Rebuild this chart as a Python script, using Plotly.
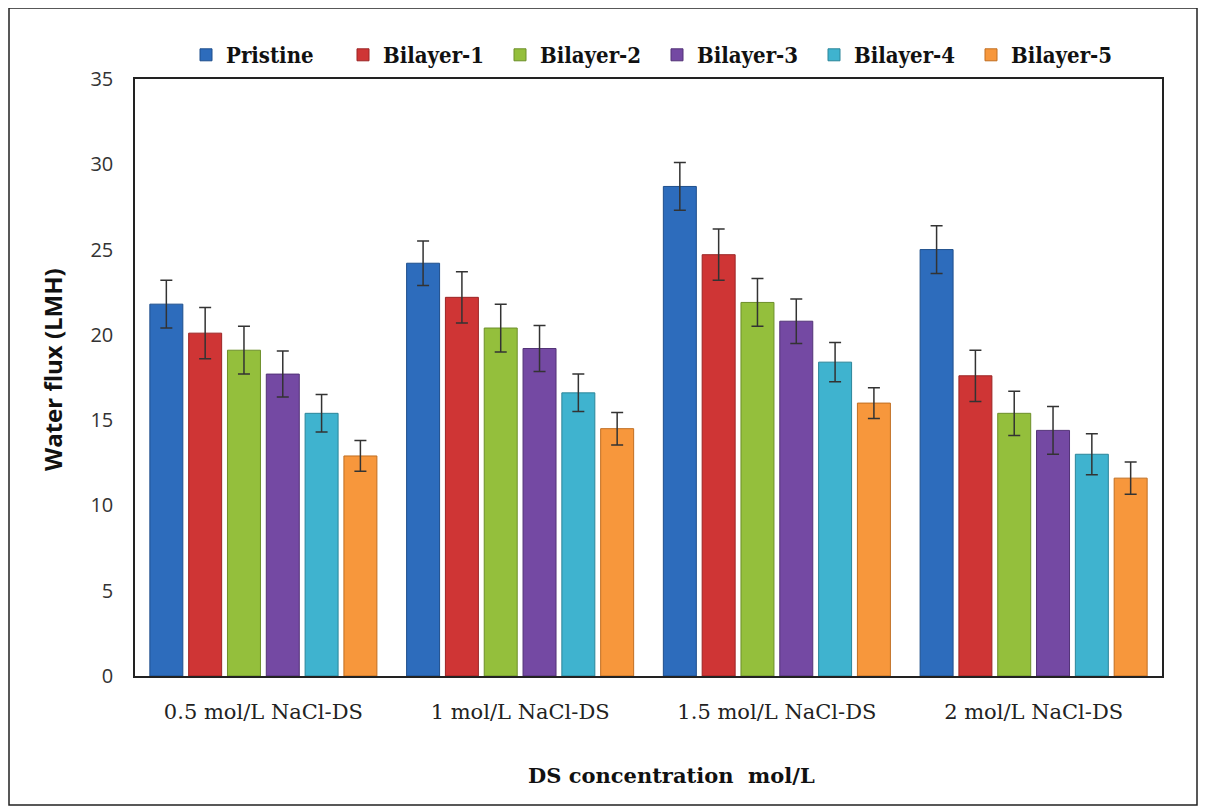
import plotly.graph_objects as go

categories = ["0.5 mol/L NaCl-DS", "1 mol/L NaCl-DS", "1.5 mol/L NaCl-DS", "2 mol/L NaCl-DS"]
series_names = ["Pristine", "Bilayer-1", "Bilayer-2", "Bilayer-3", "Bilayer-4", "Bilayer-5"]

pristine = [21.8, 24.2, 28.7, 25.0]
bilayer1 = [20.1, 22.2, 24.7, 17.6]
bilayer2 = [19.1, 20.4, 21.9, 15.4]
bilayer3 = [17.7, 19.2, 20.8, 14.4]
bilayer4 = [15.4, 16.6, 18.4, 13.0]
bilayer5 = [12.9, 14.5, 16.0, 11.6]

err_pristine = [1.4, 1.3, 1.4, 1.4]
err_bilayer1 = [1.5, 1.5, 1.5, 1.5]
err_bilayer2 = [1.4, 1.4, 1.4, 1.3]
err_bilayer3 = [1.35, 1.35, 1.3, 1.4]
err_bilayer4 = [1.1, 1.1, 1.15, 1.2]
err_bilayer5 = [0.9, 0.95, 0.9, 0.95]

y_ticks = [0, 5, 10, 15, 20, 25, 30, 35]

values = [pristine, bilayer1, bilayer2, bilayer3, bilayer4, bilayer5]
errors = [err_pristine, err_bilayer1, err_bilayer2, err_bilayer3, err_bilayer4, err_bilayer5]
colors = ["#2d6cbc", "#cf3535", "#94bf3c", "#7449a3", "#3fb3cf", "#f7973c"]
edges = ["#1f4f8c", "#9c2525", "#6d8f2a", "#533377", "#2c8599", "#c06e22"]

fig = go.Figure()
for name, v, e, c, ec in zip(series_names, values, errors, colors, edges):
    fig.add_trace(go.Bar(
        name=name, x=categories, y=v,
        marker=dict(color=c, line=dict(color=ec, width=1)),
        error_y=dict(type="data", array=e, visible=True, color="#333333", thickness=1.5, width=6),
    ))

# page has an 8px body margin; work in screen coordinates
OFF = 8
W, H = 1207 - OFF, 810 - OFF
PL, PR, PT, PB = 135, 1162, 79, 676  # plot area in screen px
L, R, T, B = PL - OFF, W - (PR - OFF), PT - OFF, H - (PB - OFF)
pw, ph = W - L - R, H - T - B

def px_x(x):
    return (x - PL) / pw

def px_y(y):
    return (PB - y) / ph

fig.add_shape(type="rect", xref="paper", yref="paper",
              x0=px_x(9), x1=px_x(1197), y0=px_y(805), y1=px_y(8),
              line=dict(color="#222222", width=1.5), layer="below")

fig.add_annotation(text="<b>DS concentration  mol/L</b>", xref="paper", yref="paper",
                   x=px_x(671), y=px_y(775), xanchor="center", yanchor="middle",
                   showarrow=False,
                   font=dict(family="DejaVu Serif", size=21, color="#111111"))

fig.add_annotation(text="<b>Water flux (LMH)</b>", xref="paper", yref="paper",
                   x=px_x(52), y=px_y(370), xanchor="center", yanchor="middle",
                   textangle=-90, showarrow=False,
                   font=dict(family="Open Sans", size=24, color="#111111"))

fig.update_layout(
    width=W, height=H,
    margin=dict(l=L, r=R, t=T, b=B),
    paper_bgcolor="white", plot_bgcolor="white",
    barmode="group", bargap=0.093, bargroupgap=0.15,
    showlegend=True,
    legend=dict(orientation="h", x=px_x(186), y=px_y(55), xanchor="left", yanchor="middle",
                font=dict(family="DejaVu Serif Condensed", size=22, color="#111111", weight="bold"),
                entrywidth=112, entrywidthmode="pixels",
                traceorder="normal"),
    xaxis=dict(
        showline=True, linecolor="#222222", linewidth=1.5, mirror=True,
        ticks="", ticklabelstandoff=16,
        tickfont=dict(family="DejaVu Serif", size=21, color="#222222"),
    ),
    yaxis=dict(
        range=[0, 35], tickvals=y_ticks, showgrid=False, zeroline=False,
        showline=True, linecolor="#222222", linewidth=1.5, mirror=True,
        ticks="", ticklabelstandoff=16,
        tickfont=dict(family="Open Sans", size=20, color="#333333"),
    ),
)

fig.write_html("out.html")
